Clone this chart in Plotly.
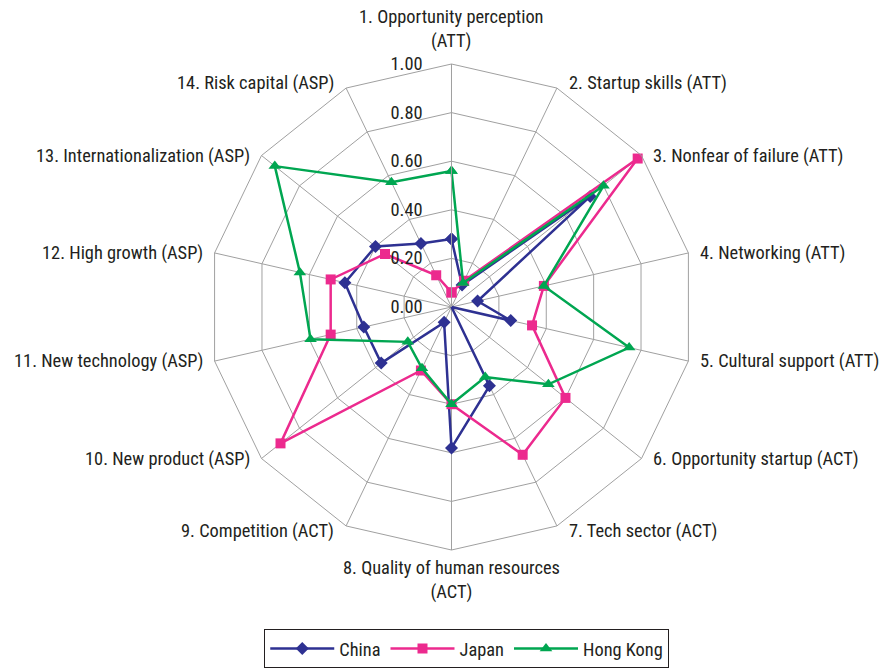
import math
import plotly.graph_objects as go

categories = [
    "1. Opportunity perception<br>(ATT)",
    "2. Startup skills (ATT)",
    "3. Nonfear of failure (ATT)",
    "4. Networking (ATT)",
    "5. Cultural support (ATT)",
    "6. Opportunity startup (ACT)",
    "7. Tech sector (ACT)",
    "8. Quality of human resources<br>(ACT)",
    "9. Competition (ACT)",
    "10. New product (ASP)",
    "11. New technology (ASP)",
    "12. High growth (ASP)",
    "13. Internationalization (ASP)",
    "14. Risk capital (ASP)",
]

china = [0.28, 0.10, 0.73, 0.11, 0.25, 0.00, 0.36, 0.58, 0.07, 0.37, 0.37, 0.45, 0.40, 0.29]
japan = [0.06, 0.12, 0.98, 0.39, 0.34, 0.60, 0.675, 0.40, 0.29, 0.90, 0.51, 0.51, 0.35, 0.145]
hong_kong = [0.56, 0.11, 0.80, 0.39, 0.75, 0.51, 0.32, 0.40, 0.28, 0.23, 0.595, 0.64, 0.93, 0.57]

radial_ticks = [0.0, 0.2, 0.4, 0.6, 0.8, 1.0]

series = [
    ("China", china, "#2E3192", "diamond", 10),
    ("Japan", japan, "#EC2A8E", "square", 10),
    ("Hong Kong", hong_kong, "#00A651", "triangle-up", 11),
]

FONT = "Liberation Sans Narrow, Arial Narrow, Roboto Condensed, sans-serif"
FS = 18.4
TEXT = "#231F20"

W, H = 879, 668
DOM_X = [0.2372, 0.7901]
DOM_Y = [0.1766, 0.9042]

fig = go.Figure()
for name, vals, color, symbol, size in series:
    fig.add_trace(go.Scatterpolar(
        r=vals + vals[:1],
        theta=categories + categories[:1],
        mode="lines+markers",
        name=name,
        line=dict(color=color, width=2.5),
        marker=dict(symbol=symbol, size=size, color=color),
    ))

# Category labels sit beside each outer vertex, spreadsheet style.
cx = sum(DOM_X) / 2
cy = sum(DOM_Y) / 2
radius_px = min((DOM_X[1] - DOM_X[0]) * W, (DOM_Y[1] - DOM_Y[0]) * H) / 2
annotations = []
n = len(categories)
for k, label in enumerate(categories):
    ang = math.radians(90 - k * 360 / n)
    c, s = math.cos(ang), math.sin(ang)
    ann = dict(
        x=cx + radius_px * c / W,
        y=cy + radius_px * s / H,
        xref="paper",
        yref="paper",
        text=label,
        showarrow=False,
        align="center",
        font=dict(family=FONT, size=FS, color=TEXT),
    )
    if abs(c) < 1e-6:
        ann.update(xanchor="center",
                   yanchor="bottom" if s > 0 else "top",
                   yshift=10 if s > 0 else -5)
    else:
        ann.update(xanchor="left" if c > 0 else "right",
                   xshift=10 if c > 0 else -10,
                   yanchor="middle",
                   yshift=(5 if s > 0 else -5) if abs(s) > 0.85 else 0)
    annotations.append(ann)

fig.update_layout(
    width=W,
    height=H,
    margin=dict(l=0, r=0, t=0, b=0),
    paper_bgcolor="white",
    plot_bgcolor="white",
    font=dict(family=FONT, size=FS, color=TEXT),
    annotations=annotations,
    polar=dict(
        domain=dict(x=DOM_X, y=DOM_Y),
        gridshape="linear",
        bgcolor="white",
        angularaxis=dict(
            rotation=90,
            direction="clockwise",
            categoryorder="array",
            categoryarray=categories,
            showline=True,
            linecolor="#A0A0A0",
            linewidth=1,
            gridcolor="#A0A0A0",
            gridwidth=1,
            ticks="",
            showticklabels=False,
        ),
        radialaxis=dict(
            range=[0, 1],
            angle=90,
            side="counterclockwise",
            tickangle=90,
            tickvals=radial_ticks,
            tickformat=".2f",
            showline=True,
            linecolor="#A0A0A0",
            gridcolor="#A0A0A0",
            gridwidth=1,
            ticks="outside",
            ticklen=22,
            tickcolor="rgba(0,0,0,0)",
            tickfont=dict(family=FONT, size=FS, color=TEXT),
        ),
    ),
    showlegend=True,
    legend=dict(
        orientation="h",
        x=0.531,
        xanchor="center",
        y=0,
        yanchor="bottom",
        bordercolor=TEXT,
        borderwidth=1,
        itemwidth=64,
        font=dict(family=FONT, size=FS, color=TEXT),
    ),
)

fig.write_html("out.html")
